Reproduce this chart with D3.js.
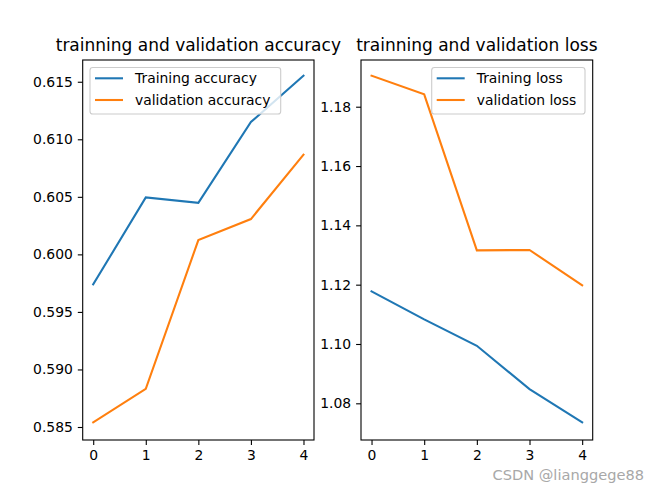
<!DOCTYPE html>
<html><head><meta charset="utf-8">
<script src="https://cdn.jsdelivr.net/npm/d3@7"></script>
<style>body{margin:0;background:#fff}svg{display:block}text{font-family:"DejaVu Sans",sans-serif}</style>
</head><body>
<script>
const epochs = [0, 1, 2, 3, 4];
const trainAcc = [0.59739, 0.60495, 0.60448, 0.61150, 0.61552];
const valAcc = [0.58541, 0.58832, 0.60124, 0.60307, 0.60867];
const trainLoss = [1.11774, 1.10830, 1.09940, 1.08480, 1.07360];
const valLoss = [1.19045, 1.18418, 1.13157, 1.13170, 1.11980];
const accTicks = [0.585, 0.590, 0.595, 0.600, 0.605, 0.610, 0.615];
const lossTicks = [1.08, 1.10, 1.12, 1.14, 1.16, 1.18];
const xTicks = [0, 1, 2, 3, 4];

const W = 659, H = 494;
const svg = d3.select("body").append("svg").attr("width", W).attr("height", H);
const blue = "#1f77b4", orange = "#ff7f0e";

function panel(opts) {
  const {x0, x1, y0, y1, yDomain, yTicks, yFmt, s1, s2, l1, l2, title, legX, legW} = opts;
  const x = d3.scaleLinear().domain([-0.2, 4.2]).range([x0, x1]);
  const y = d3.scaleLinear().domain(yDomain).range([y1, y0]);
  const g = svg.append("g");
  const line = d3.line().x((d, i) => x(epochs[i])).y(d => y(d));
  g.append("path").datum(s1).attr("d", line).attr("fill", "none").attr("stroke", blue).attr("stroke-width", 2.08).attr("stroke-linecap", "square");
  g.append("path").datum(s2).attr("d", line).attr("fill", "none").attr("stroke", orange).attr("stroke-width", 2.08).attr("stroke-linecap", "square");
  const ax = g.append("g").attr("transform", `translate(0,${y1})`)
    .call(d3.axisBottom(x).tickValues(xTicks).tickFormat(d3.format("d")).tickSizeInner(4.9).tickSizeOuter(0).tickPadding(4.9));
  const ay = g.append("g").attr("transform", `translate(${x0},0)`)
    .call(d3.axisLeft(y).tickValues(yTicks).tickFormat(yFmt).tickSizeInner(4.9).tickSizeOuter(0).tickPadding(4.9));
  [ax, ay].forEach(a => {
    a.select(".domain").remove();
    a.selectAll("line").attr("stroke", "#000").attr("stroke-width", 1.1);
    a.selectAll("text").attr("font-size", 13.9).attr("fill", "#000").attr("font-family", "DejaVu Sans");
  });
  g.append("rect").attr("x", x0).attr("y", y0).attr("width", x1 - x0).attr("height", y1 - y0)
    .attr("fill", "none").attr("stroke", "#000").attr("stroke-width", 1.1);
  g.append("text").attr("x", (x0 + x1) / 2).attr("y", 50.5).attr("text-anchor", "middle")
    .attr("font-size", 17).attr("fill", "#000").text(title);
  const lg = g.append("g");
  lg.append("rect").attr("x", legX).attr("y", 67.5).attr("width", legW).attr("height", 46.5)
    .attr("rx", 2.8).attr("fill", "#fff").attr("fill-opacity", 0.8).attr("stroke", "#cccccc").attr("stroke-width", 1.1);
  [[l1, blue, 78.3], [l2, orange, 100]].forEach(([t, c, yy]) => {
    lg.append("line").attr("x1", legX + 5).attr("x2", legX + 33).attr("y1", yy).attr("y2", yy)
      .attr("stroke", c).attr("stroke-width", 2.08);
    lg.append("text").attr("x", legX + 45).attr("y", yy).attr("dy", "0.35em").attr("font-size", 13.9).attr("fill", "#000").text(t);
  });
}

panel({x0: 82.7, x1: 314, y0: 60, y1: 440, yDomain: [0.58387, 0.61689], yTicks: accTicks, yFmt: d3.format(".3f"),
  s1: trainAcc, s2: valAcc, l1: "Training accuracy", l2: "validation accuracy",
  title: "trainning and validation accuracy", legX: 90, legW: 190.7});
panel({x0: 361, x1: 592.7, y0: 60, y1: 440, yDomain: [1.06763, 1.19575], yTicks: lossTicks, yFmt: d3.format(".2f"),
  s1: trainLoss, s2: valLoss, l1: "Training loss", l2: "validation loss",
  title: "trainning and validation loss", legX: 431.7, legW: 153.3});

svg.append("text").attr("x", 644).attr("y", 480).attr("text-anchor", "end").attr("font-size", 14.6)
  .attr("font-family", "DejaVu Sans, sans-serif").attr("fill", "#a8a8a8").text("CSDN @lianggege88");
</script>
</body></html>
